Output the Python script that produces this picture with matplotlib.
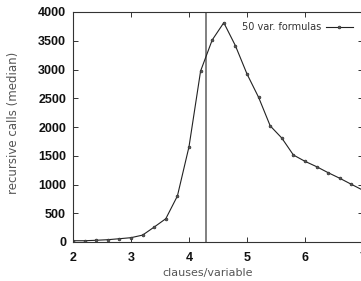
import matplotlib
matplotlib.use("Agg")
import matplotlib.pyplot as plt

x_vals = [2.0, 2.2, 2.4, 2.6, 2.8, 3.0, 3.2, 3.4, 3.6, 3.8, 4.0, 4.2, 4.4, 4.6, 4.8,
          5.0, 5.2, 5.4, 5.6, 5.8, 6.0, 6.2, 6.4, 6.6, 6.8, 7.0]
median_calls = [22, 22, 30, 40, 57, 75, 120, 260, 405, 800, 1657, 2974, 3513, 3814, 3414,
                2922, 2516, 2020, 1808, 1513, 1403, 1310, 1205, 1108, 1003, 900]
threshold = 4.3
series_label = "50 var. formulas"
x_ticks = [2, 3, 4, 5, 6, 7]
y_ticks = [0, 500, 1000, 1500, 2000, 2500, 3000, 3500, 4000]

fig = plt.figure(figsize=(3.61, 2.81), dpi=100)
ax = fig.add_axes([73/361, 39/281, 290/361, 230/281])

ax.axvline(threshold, color="#808080", lw=1.4, zorder=1)
ax.plot(x_vals, median_calls, color="#222222", lw=0.8, marker="o", ms=2.0,
        mfc="#555555", mec="#333333", mew=0.5, label=series_label, zorder=2)

ax.set_xlim(2, 7)
ax.set_ylim(0, 4000)
ax.set_xticks(x_ticks)
ax.set_yticks(y_ticks)
tick_font = dict(family="Liberation Sans", weight="bold", size=9)
ax.set_xticklabels([str(t) for t in x_ticks], **tick_font, color="#111111")
ax.set_yticklabels([str(t) for t in y_ticks], **tick_font, color="#111111")
ax.tick_params(direction="in", length=3.5, width=0.7, top=True, right=True,
               colors="#333333", labelcolor="#111111")
ax.tick_params(axis="x", pad=7)
ax.tick_params(axis="y", pad=5)
for s in ax.spines.values():
    s.set_linewidth(0.8)
    s.set_color("#333333")

ax.set_xlabel("clauses/variable", fontsize=8, color="#555555", family="DejaVu Sans")
ax.set_ylabel("recursive calls (median)", fontsize=8.5, color="#555555", family="DejaVu Sans")
ax.xaxis.set_label_coords(0.464, -0.112)
ax.yaxis.set_label_coords(-0.182, 0.52)

leg = ax.legend(loc="center right", bbox_to_anchor=(0.965, 0.935), frameon=False,
                markerfirst=False, fontsize=7, handlelength=2.8, handletextpad=0.4,
                borderpad=0, borderaxespad=0)
for t in leg.get_texts():
    t.set_color("#333333")

fig.savefig("out.png", dpi=100)
